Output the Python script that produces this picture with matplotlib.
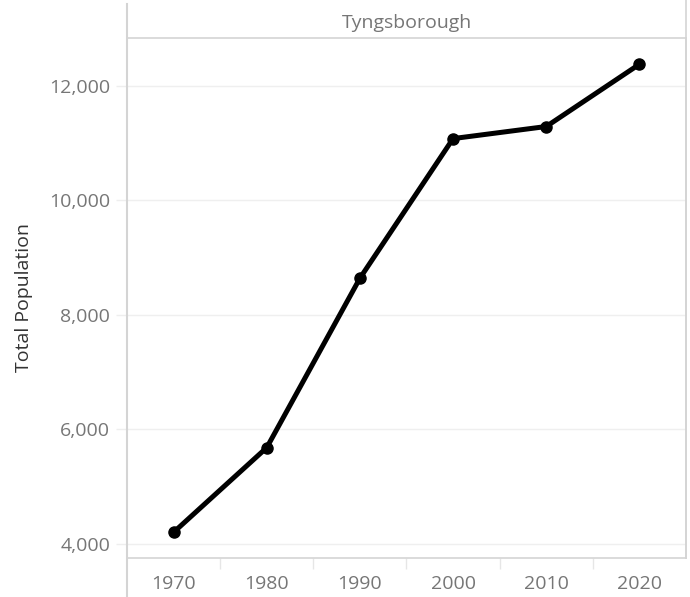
"""Tyngsborough total population by census year."""

import matplotlib

matplotlib.use("Agg")
import matplotlib.pyplot as plt
from matplotlib.lines import Line2D
from matplotlib.ticker import FuncFormatter

town = "Tyngsborough"
years = ["1970", "1980", "1990", "2000", "2010", "2020"]
population = [4204, 5683, 8642, 11081, 11292, 12380]
y_ticks = [4000, 6000, 8000, 10000, 12000]

plt.rcParams["font.family"] = ["Open Sans", "DejaVu Sans"]

W, H = 690, 597
fig = plt.figure(figsize=(W / 100, H / 100), dpi=100)


def fx(px):
    return px / W


def fy(py):
    return 1 - py / H


left, right, top, bottom = 127, 686, 38, 558
ax = fig.add_axes([fx(left), fy(bottom), fx(right - left), fy(top) - fy(bottom)])

x = list(range(len(years)))
ax.plot(x, population, "-o", color="black", lw=3.6, ms=8, solid_capstyle="round")
ax.set_xlim(-0.5, len(years) - 0.5)
ax.set_ylim(3755, 12838)

ax.set_yticks(y_ticks)
ax.yaxis.set_major_formatter(FuncFormatter(lambda v, _: f"{int(v):,}"))
ax.set_xticks(x)
ax.set_xticklabels(years)
ax.set_xticks([i + 0.5 for i in x[:-1]], minor=True)
ax.tick_params(axis="x", which="major", length=0, pad=12, labelsize=14, colors="#767676")
ax.tick_params(axis="x", which="minor", length=8, width=1, color="#e6e6e6", direction="out")
ax.tick_params(axis="y", length=8, width=1, color="#eeeeee", pad=4, labelsize=14,
               labelcolor="#767676")
ax.grid(axis="y", color="#efefef", lw=1)
ax.set_axisbelow(True)

for side in ("top", "left"):
    ax.spines[side].set_visible(False)
ax.spines["bottom"].set_color("#d4d4d4")
ax.spines["right"].set_color("#d4d4d4")
ax.spines["bottom"].set_linewidth(1.2)
ax.spines["right"].set_linewidth(1.2)

ax.set_ylabel("Total Population", fontsize=14, color="#333333", labelpad=12)

# frame lines of the pane: left rule runs full height, header band on top
fig.add_artist(Line2D([fx(left), fx(left)], [fy(4), fy(597)], color="#d4d4d4", lw=1.5))
fig.add_artist(Line2D([fx(right), fx(right)], [fy(0), fy(bottom)], color="#d4d4d4", lw=1.2))
fig.add_artist(Line2D([fx(left), fx(right)], [fy(top), fy(top)], color="#d4d4d4", lw=1.2))
fig.text(fx((left + right) / 2), fy(23), town, ha="center", va="center",
         fontsize=14, color="#767676")

fig.savefig("out.png", dpi=100, facecolor="white")
